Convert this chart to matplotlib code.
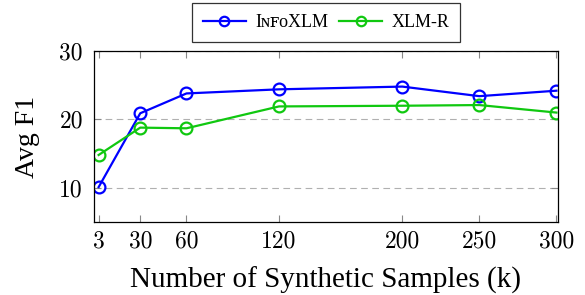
import matplotlib
matplotlib.use("Agg")
import matplotlib.pyplot as plt

samples = [3, 30, 60, 120, 200, 250, 300]
infoxlm = [10.1, 20.9, 23.8, 24.4, 24.8, 23.4, 24.2]
xlmr = [14.8, 18.8, 18.7, 21.9, 22.0, 22.1, 21.0]
yticks = [10, 20, 30]

plt.rcParams['font.family'] = ['Liberation Serif', 'DejaVu Serif']

fig = plt.figure(figsize=(5.85, 2.95), dpi=100)
ax = fig.add_axes([0.1607, 0.2475, 0.7931, 0.5795])

for yv in yticks:
    ax.axhline(yv, color='#b0b0b0', lw=0.8, ls=(0, (6, 4)), zorder=0)

ax.plot(samples, infoxlm, color='#0000ff', lw=1.6, marker='o', ms=8.5,
        mfc='none', mew=1.6, label='I\u0274\ua730\u1d0fXLM')
ax.plot(samples, xlmr, color='#10c810', lw=1.6, marker='o', ms=8.5,
        mfc='none', mew=1.6, label='XLM-R')

ax.set_xlim(0, 301)
ax.set_ylim(5, 30)
ax.set_xticks(samples)
ax.set_yticks(yticks)
ax.tick_params(direction='in', top=True, right=True, length=5, width=0.8,
               color='#888888', labelsize=17)
ax.tick_params(axis='y', pad=8)
ax.tick_params(axis='x', pad=6)
for lab in ax.get_xticklabels() + ax.get_yticklabels():
    lab.set_fontfamily('cmr10')
for s in ax.spines.values():
    s.set_linewidth(0.9)

ax.set_xlabel('Number of Synthetic Samples (k)', fontsize=21, labelpad=10)
ax.set_ylabel('Avg F1', fontsize=20, labelpad=14)

leg = ax.legend(loc='lower center', bbox_to_anchor=(0.5, 1.0), ncol=2,
                frameon=True, fancybox=False, edgecolor='black',
                fontsize=13, handlelength=2.4, columnspacing=0.6,
                handletextpad=0.5, borderpad=0.6, markerscale=0.8)
leg.get_frame().set_linewidth(0.9)

fig.savefig('out.png', dpi=100)
